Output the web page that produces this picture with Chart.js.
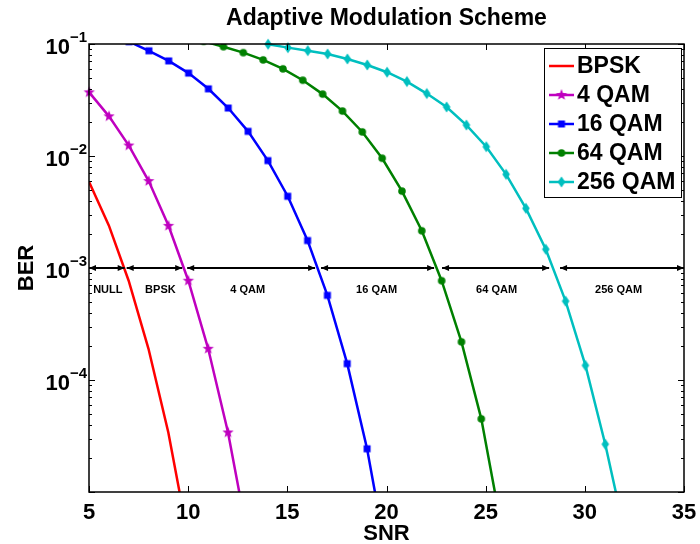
<!DOCTYPE html>
<html>
<head>
<meta charset="utf-8">
<script src="https://cdn.jsdelivr.net/npm/chart.js@4/dist/chart.umd.min.js"></script>
<style>
  body { margin: 0; background: #fff; }
  canvas { display: block; }
</style>
</head>
<body>
<canvas id="chart" width="700" height="544"></canvas>
<script>
// values
const snrBpsk = [5, 6, 7, 8, 9, 10];
const berBpsk = [5.9e-3, 2.4e-3, 7.7e-4, 1.9e-4, 3.4e-5, 3.9e-6];

const snr4qam = [5.01, 6.01, 7.01, 8.01, 9.01, 10.01, 11.01, 12.01, 13.01];
const ber4qam = [3.7e-2, 2.26e-2, 1.24e-2, 5.97e-3, 2.38e-3, 7.7e-4, 1.9e-4, 3.4e-5, 3.9e-6];

const snr16qam = [7.02, 8.02, 9.02, 10.02, 11.02, 12.02, 13.02, 14.02, 15.02, 16.02, 17.02, 18.02, 19.02, 20.02];
const ber16qam = [0.105, 8.7e-2, 7.06e-2, 5.5e-2, 3.98e-2, 2.68e-2, 1.66e-2, 9.1e-3, 4.37e-3, 1.76e-3, 5.7e-4, 1.4e-4, 2.43e-5, 2.6e-6];

const snr64qam = [10.78, 11.78, 12.78, 13.78, 14.78, 15.78, 16.78, 17.78, 18.78, 19.78, 20.78, 21.78, 22.78, 23.78, 24.78, 25.78];
const ber64qam = [0.1057, 0.0946, 0.0837, 0.0721, 0.060, 0.0475, 0.0357, 0.0252, 0.0164, 9.55e-3, 4.86e-3, 2.15e-3, 7.7e-4, 2.19e-4, 4.5e-5, 5e-6];

const snr256qam = [14.03, 15.03, 16.03, 17.03, 18.03, 19.03, 20.03, 21.03, 22.03, 23.03, 24.03, 25.03, 26.03, 27.03, 28.03, 29.03, 30.03, 31.03, 32.03];
const ber256qam = [0.0995, 0.0928, 0.0872, 0.0815, 0.0735, 0.065, 0.056, 0.0462, 0.0361, 0.0274, 0.0189, 0.0121, 6.86e-3, 3.41e-3, 1.47e-3, 5.06e-4, 1.35e-4, 2.67e-5, 4.2e-6];

// switching regions (arrows at BER = 1e-3)
const regionLabels = ["NULL", "BPSK", "4 QAM", "16 QAM", "64 QAM", "256 QAM"];
const regionFrom = [5, 6.9, 9.95, 16.7, 22.8, 28.75];
const regionTo = [6.8, 9.7, 16.4, 22.4, 28.2, 35];
const regionLabelAt = [5.95, 8.6, 13.0, 19.5, 25.55, 31.7];
const regionBer = 1e-3;

const xTicks = [5, 10, 15, 20, 25, 30, 35];
const yTicks = [1e-5, 1e-4, 1e-3, 1e-2, 1e-1];
// no label at the bottom decade in the reference
const yTickExp = ["", "−4", "−3", "−2", "−1"];

const FONT = '"Liberation Sans", Arial, sans-serif';

function makeMarker(kind, color) {
    const c = document.createElement("canvas");
    c.width = 16;
    c.height = 16;
    const g = c.getContext("2d");
    g.fillStyle = color;
    g.translate(8, 8);
    g.beginPath();
    if (kind === "star") {
        for (let i = 0; i < 10; i++) {
            const r = i % 2 === 0 ? 6 : 2.5;
            const a = -Math.PI / 2 + i * Math.PI / 5;
            g.lineTo(r * Math.cos(a), r * Math.sin(a));
        }
    } else if (kind === "square") {
        g.rect(-3.5, -3.5, 7, 7);
    } else if (kind === "circle") {
        g.arc(0, 0, 3.8, 0, Math.PI * 2);
    } else if (kind === "diamond") {
        g.moveTo(0, -5.5);
        g.lineTo(3.8, 0);
        g.lineTo(0, 5.5);
        g.lineTo(-3.8, 0);
    }
    g.closePath();
    g.fill();
    return c;
}

function points(xs, ys) {
    return xs.map((x, i) => ({ x: x, y: ys[i] }));
}

const series = [
    { label: "BPSK", color: "#ff0000", marker: null, data: points(snrBpsk, berBpsk) },
    { label: "4 QAM", color: "#bf00bf", marker: makeMarker("star", "#bf00bf"), data: points(snr4qam, ber4qam), clip: { left: 8, top: 0, right: 0, bottom: 0 } },
    { label: "16 QAM", color: "#0000ff", marker: makeMarker("square", "#0000ff"), data: points(snr16qam, ber16qam) },
    { label: "64 QAM", color: "#008000", marker: makeMarker("circle", "#008000"), data: points(snr64qam, ber64qam) },
    { label: "256 QAM", color: "#00bfbf", marker: makeMarker("diamond", "#00bfbf"), data: points(snr256qam, ber256qam), clip: { left: 0, top: 6, right: 0, bottom: 0 } }
];

const datasets = series.map(s => ({
    label: s.label,
    data: s.data,
    borderColor: s.color,
    backgroundColor: s.color,
    borderWidth: 2.5,
    pointStyle: s.marker || false,
    pointRadius: s.marker ? 5 : 0,
    tension: 0,
    clip: s.clip || 0
}));

// MATLAB style frame, ticks, labels, arrows and legend
const decorPlugin = {
    id: "decor",
    afterDatasetsDraw(chart) {
        const ctx = chart.ctx;
        const a = chart.chartArea;
        const xs = chart.scales.x;
        const ys = chart.scales.y;
        ctx.save();

        // arrows
        const yA = ys.getPixelForValue(regionBer);
        ctx.strokeStyle = "#000";
        ctx.fillStyle = "#000";
        ctx.lineWidth = 2;
        regionFrom.forEach((f, i) => {
            const x1 = xs.getPixelForValue(f);
            const x2 = xs.getPixelForValue(regionTo[i]);
            ctx.beginPath();
            ctx.moveTo(x1, yA);
            ctx.lineTo(x2, yA);
            ctx.stroke();
            [[x1, 1], [x2, -1]].forEach(([x, d]) => {
                ctx.beginPath();
                ctx.moveTo(x, yA);
                ctx.lineTo(x + d * 7, yA - 3);
                ctx.lineTo(x + d * 7, yA + 3);
                ctx.closePath();
                ctx.fill();
            });
        });
        ctx.font = "bold 11px " + FONT;
        ctx.textAlign = "center";
        ctx.textBaseline = "middle";
        regionLabels.forEach((t, i) => {
            ctx.fillText(t, xs.getPixelForValue(regionLabelAt[i]), yA + 22);
        });

        // frame
        ctx.lineWidth = 1.5;
        ctx.strokeRect(a.left, a.top, a.right - a.left, a.bottom - a.top);
        ctx.lineWidth = 1;
        ctx.beginPath();
        xTicks.forEach(v => {
            const x = Math.round(xs.getPixelForValue(v)) + 0.5;
            ctx.moveTo(x, a.bottom); ctx.lineTo(x, a.bottom - 6);
            ctx.moveTo(x, a.top); ctx.lineTo(x, a.top + 6);
        });
        yTicks.forEach((v, k) => {
            const y = Math.round(ys.getPixelForValue(v)) + 0.5;
            ctx.moveTo(a.left, y); ctx.lineTo(a.left + 6, y);
            ctx.moveTo(a.right, y); ctx.lineTo(a.right - 6, y);
            if (k < yTicks.length - 1) {
                for (let m = 2; m <= 9; m++) {
                    const ym = Math.round(ys.getPixelForValue(v * m)) + 0.5;
                    ctx.moveTo(a.left, ym); ctx.lineTo(a.left + 3, ym);
                    ctx.moveTo(a.right, ym); ctx.lineTo(a.right - 3, ym);
                }
            }
        });
        ctx.stroke();

        // y tick labels 10^k
        ctx.textBaseline = "alphabetic";
        yTicks.forEach((v, k) => {
            if (!yTickExp[k]) return;
            const y = ys.getPixelForValue(v);
            ctx.font = "bold 22px " + FONT;
            ctx.textAlign = "right";
            ctx.fillText("10", 70, y + 10);
            ctx.font = "bold 15px " + FONT;
            ctx.textAlign = "left";
            ctx.fillText(yTickExp[k], 70, y - 2);
        });

        // title and axis titles
        const cx = (a.left + a.right) / 2;
        ctx.textAlign = "center";
        ctx.font = "bold 23px " + FONT;
        ctx.fillText("Adaptive Modulation Scheme", cx, 25);
        ctx.font = "bold 22px " + FONT;
        ctx.fillText("SNR", cx, 540);
        ctx.save();
        ctx.translate(33, (a.top + a.bottom) / 2);
        ctx.rotate(-Math.PI / 2);
        ctx.fillText("BER", 0, 0);
        ctx.restore();

        // legend
        const lx = 544, ly = 48, lw = 137, lh = 149;
        ctx.fillStyle = "#fff";
        ctx.fillRect(lx, ly, lw, lh);
        ctx.strokeStyle = "#000";
        ctx.lineWidth = 1;
        ctx.strokeRect(lx + 0.5, ly + 0.5, lw, lh);
        ctx.font = "bold 23px " + FONT;
        ctx.textAlign = "left";
        ctx.textBaseline = "middle";
        series.forEach((s, i) => {
            const y = ly + 18 + i * 29;
            ctx.strokeStyle = s.color;
            ctx.lineWidth = 2.5;
            ctx.beginPath();
            ctx.moveTo(549, y);
            ctx.lineTo(574, y);
            ctx.stroke();
            if (s.marker) ctx.drawImage(s.marker, 561.5 - 8, y - 8);
            ctx.fillStyle = "#000";
            ctx.fillText(s.label, 577, y + 1);
        });
        ctx.restore();
    }
};

const chart = new Chart(document.getElementById("chart"), {
    type: "line",
    data: { datasets: datasets },
    options: {
        responsive: false,
        animation: false,
        layout: { padding: { top: 44, right: 16, left: 0, bottom: 0 } },
        plugins: {
            legend: { display: false },
            title: { display: false },
            tooltip: { enabled: false }
        },
        scales: {
            x: {
                type: "linear",
                min: 5,
                max: 35,
                afterBuildTicks: s => { s.ticks = xTicks.map(v => ({ value: v })); },
                afterFit: s => { s.height = 52; },
                grid: { display: false },
                border: { display: false },
                ticks: {
                    color: "#000",
                    padding: 0,
                    maxRotation: 0,
                    font: { family: FONT, size: 22, weight: "bold" }
                }
            },
            y: {
                type: "logarithmic",
                min: 1e-5,
                max: 1e-1,
                afterFit: s => { s.width = 89; },
                grid: { display: false },
                border: { display: false },
                ticks: { display: false }
            }
        }
    },
    plugins: [decorPlugin]
});
</script>
</body>
</html>
